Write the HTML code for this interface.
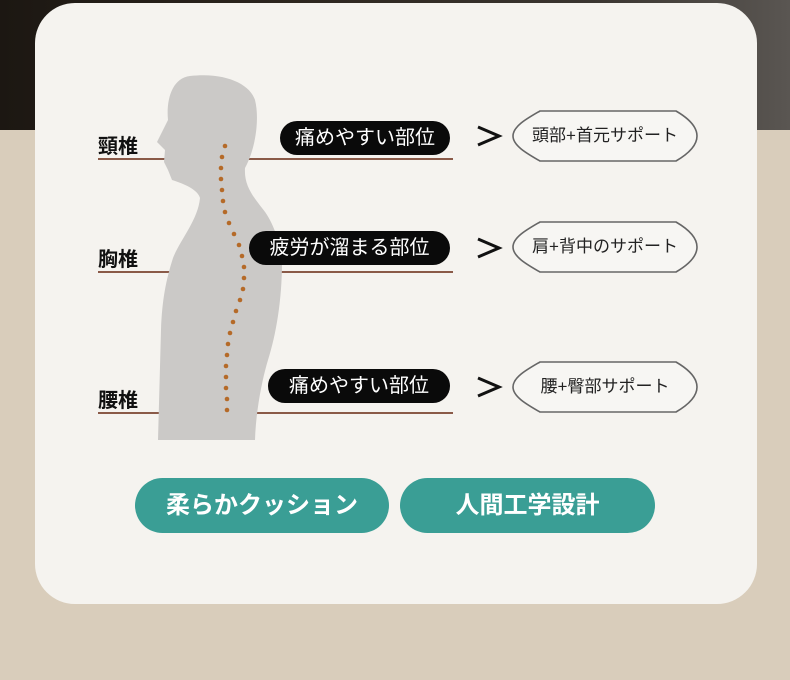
<!DOCTYPE html>
<html><head><meta charset="utf-8"><style>
body{margin:0;width:790px;height:680px;overflow:hidden;background:#d9cdbb;font-family:"Liberation Sans","Noto Sans CJK JP",sans-serif;position:relative}
.top{position:absolute;left:0;top:0;width:790px;height:130px;background:linear-gradient(90deg,#1c1712 0%,#2e2720 40%,#3a3530 75%,#5a5652 100%)}
.card{position:absolute;left:35px;top:3px;width:722px;height:601px;background:#f5f3ef;border-radius:40px}
.lbl{position:absolute;left:98px;font-size:20px;font-weight:bold;color:#111}
.pill{position:absolute;background:#0a0a0a;color:#fff;font-size:20px;border-radius:18px;text-align:center;line-height:34px;height:34px}
.btn{position:absolute;top:478px;height:55px;width:254px;background:#3a9e95;color:#fff;font-weight:bold;font-size:24px;border-radius:28px;text-align:center;line-height:55px}
.bt{position:absolute;left:512px;width:186px;text-align:center;font-size:17px;color:#222;line-height:52px}
</style></head><body>
<div class="top"></div>
<div class="card"></div>
<svg style="position:absolute;left:0;top:0" width="790" height="680">
<g stroke="#8a5a48" stroke-width="2">
<line x1="98" y1="159" x2="170" y2="159"/><line x1="240" y1="159" x2="453" y2="159"/>
<line x1="98" y1="272" x2="170" y2="272"/><line x1="270" y1="272" x2="453" y2="272"/>
<line x1="98" y1="413" x2="162" y2="413"/><line x1="255" y1="413" x2="453" y2="413"/>
</g>
<path d="M190 76 C172 78 166 100 168 120 L157 142 L165 150 L164 162 L168 170 L172 180 C185 184 198 190 200 198 C198 220 180 240 173 258 C166 280 162 300 161 330 L158 440 L255 440 C256 410 262 380 268 360 C276 335 282 300 282 262 C280 240 272 220 262 208 C252 195 244 185 245 168 C255 150 260 120 255 100 C250 84 225 72 190 76 Z" fill="#cbc9c7"/>
<g fill="#b56a28">
<circle cx="225" cy="146" r="2.3"/><circle cx="222" cy="157" r="2.3"/><circle cx="221" cy="168" r="2.3"/><circle cx="221" cy="179" r="2.3"/><circle cx="222" cy="190" r="2.3"/><circle cx="223" cy="201" r="2.3"/><circle cx="225" cy="212" r="2.3"/><circle cx="229" cy="223" r="2.3"/><circle cx="234" cy="234" r="2.3"/><circle cx="239" cy="245" r="2.3"/><circle cx="242" cy="256" r="2.3"/><circle cx="244" cy="267" r="2.3"/><circle cx="244" cy="278" r="2.3"/><circle cx="243" cy="289" r="2.3"/><circle cx="240" cy="300" r="2.3"/><circle cx="236" cy="311" r="2.3"/><circle cx="233" cy="322" r="2.3"/><circle cx="230" cy="333" r="2.3"/><circle cx="228" cy="344" r="2.3"/><circle cx="227" cy="355" r="2.3"/><circle cx="226" cy="366" r="2.3"/><circle cx="226" cy="377" r="2.3"/><circle cx="226" cy="388" r="2.3"/><circle cx="227" cy="399" r="2.3"/><circle cx="227" cy="410" r="2.3"/>
</g>
<g fill="none" stroke="#111" stroke-width="3">
<polyline points="478,127 499,136 478,145"/><polyline points="478,239 499,248 478,257"/><polyline points="478,378 499,387 478,396"/>
</g>
<g fill="#f7f6f3" stroke="#666" stroke-width="1.6">
<path d="M540 111 L676 111 C688 118 697 126 697 136 C697 146 688 154 676 161 L540 161 C528 154 513 146 513 136 C513 126 528 118 540 111 Z"/>
<path d="M540 222 L676 222 C688 229 697 237 697 247 C697 257 688 265 676 272 L540 272 C528 265 513 257 513 247 C513 237 528 229 540 222 Z"/>
<path d="M540 362 L676 362 C688 369 697 377 697 387 C697 397 688 405 676 412 L540 412 C528 405 513 397 513 387 C513 377 528 369 540 362 Z"/>
</g>
</svg>
<div class="lbl" style="top:130px">頸椎</div>
<div class="lbl" style="top:243px">胸椎</div>
<div class="lbl" style="top:384px">腰椎</div>
<div class="pill" style="left:280px;top:121px;width:170px">痛めやすい部位</div>
<div class="pill" style="left:249px;top:231px;width:201px">疲労が溜まる部位</div>
<div class="pill" style="left:268px;top:369px;width:182px">痛めやすい部位</div>
<div class="bt" style="top:110px">頭部+首元サポート</div>
<div class="bt" style="top:221px">肩+背中のサポート</div>
<div class="bt" style="top:361px">腰+臀部サポート</div>
<div class="btn" style="left:135px">柔らかクッション</div>
<div class="btn" style="left:400px;width:255px">人間工学設計</div>
</body></html>
